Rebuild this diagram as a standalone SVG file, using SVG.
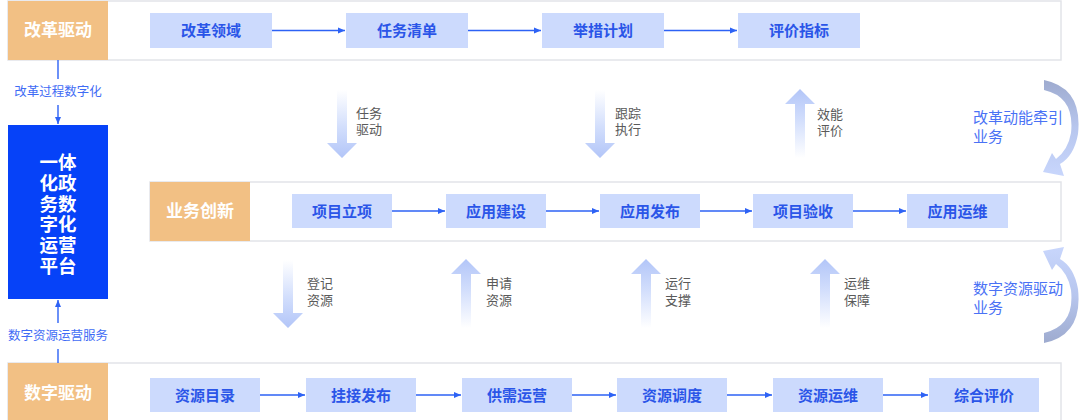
<svg xmlns="http://www.w3.org/2000/svg" width="1080" height="420" viewBox="0 0 1080 420">
<defs>
<style>
text{font-family:"Liberation Sans","Noto Sans CJK SC",sans-serif}
.band{fill:#fff;stroke:#e2e4e9;stroke-width:1.5}
.org{fill:#f2c084}
.otxt{fill:#fff;font-size:17px;font-weight:bold;text-anchor:middle;dominant-baseline:central}
.node{fill:#ccdafd}
.ntxt{fill:#2a55e8;font-size:15px;font-weight:bold;text-anchor:middle;dominant-baseline:central}
.conn{stroke:#2d62f5;stroke-width:1.4;fill:none;marker-end:url(#ah)}
.gtxt{fill:#5a5a5a;font-size:13px}
.btxt{fill:#3f6cf5;font-size:12.5px;text-anchor:middle;dominant-baseline:central}
.rtxt{fill:#4a72f5;font-size:15px}
.ptxt{fill:#fff;font-size:18.5px;font-weight:bold;text-anchor:middle;dominant-baseline:central}
</style>
<marker id="ah" markerWidth="8" markerHeight="8" refX="7" refY="4" orient="auto" markerUnits="userSpaceOnUse">
<path d="M0,1 L7,4 L0,7 Z" fill="#2d62f5"/>
</marker>
<linearGradient id="gDown" x1="0" y1="0" x2="0" y2="1">
<stop offset="0" stop-color="#ffffff"/>
<stop offset="0.55" stop-color="#d2defc"/>
<stop offset="1" stop-color="#b2c5f8"/>
</linearGradient>
<linearGradient id="gUp" x1="0" y1="1" x2="0" y2="0">
<stop offset="0" stop-color="#ffffff"/>
<stop offset="0.55" stop-color="#d2defc"/>
<stop offset="1" stop-color="#b2c5f8"/>
</linearGradient>
<linearGradient id="gArc" x1="0" y1="0" x2="0" y2="1">
<stop offset="0" stop-color="#9eabcf"/>
<stop offset="0.5" stop-color="#b7c6ee"/>
<stop offset="1" stop-color="#c8d6fc"/>
</linearGradient>
<path id="fatDown" d="M-5,0 H5 V53 H15 L0,68 L-15,53 H-5 Z"/>
<path id="fatUp" d="M0,0 L15,15 H5 V69 H-5 V15 H-15 Z"/>
<path id="arc" d="M1044,80 Q1083,88 1078,134 Q1074,156 1060,164 L1064,176 L1043,172 L1052,153 L1056,159 Q1068,150 1071,133 Q1075,97 1044,90 Z"/>
</defs>

<!-- bands -->
<g id="band-top">
<rect class="band" x="8" y="1" width="1053" height="59"/>
<rect class="org" x="8" y="1" width="100" height="59"/>
<text class="otxt" x="58" y="30.5">改革驱动</text>
</g>
<g id="band-mid">
<rect class="band" x="150" y="182" width="911" height="59"/>
<rect class="org" x="150" y="182" width="100" height="59"/>
<text class="otxt" x="200" y="211.5">业务创新</text>
</g>
<g id="band-bot">
<rect class="band" x="8" y="363" width="1053" height="62"/>
<rect class="org" x="8" y="363" width="100" height="62"/>
<text class="otxt" x="58" y="393">数字驱动</text>
</g>

<!-- platform -->
<g id="platform">
<rect x="8" y="125" width="100" height="174" fill="#0642f8"/>
<text class="ptxt" x="58" y="162">一体</text>
<text class="ptxt" x="58" y="183">化政</text>
<text class="ptxt" x="58" y="204">务数</text>
<text class="ptxt" x="58" y="224.5">字化</text>
<text class="ptxt" x="58" y="245">运营</text>
<text class="ptxt" x="58" y="266">平台</text>
</g>

<!-- top nodes -->
<g id="n-gglY"><rect class="node" x="150" y="13" width="122" height="35"/><text class="ntxt" x="211" y="30.5">改革领域</text></g>
<g id="n-rwqd"><rect class="node" x="346" y="13" width="122" height="35"/><text class="ntxt" x="407" y="30.5">任务清单</text></g>
<g id="n-jcjh"><rect class="node" x="542" y="13" width="122" height="35"/><text class="ntxt" x="603" y="30.5">举措计划</text></g>
<g id="n-pjzb"><rect class="node" x="738" y="13" width="122" height="35"/><text class="ntxt" x="799" y="30.5">评价指标</text></g>

<!-- middle nodes -->
<g id="n-xmlx"><rect class="node" x="292" y="194" width="100" height="34"/><text class="ntxt" x="342" y="211">项目立项</text></g>
<g id="n-yyjs"><rect class="node" x="446" y="194" width="100" height="34"/><text class="ntxt" x="496" y="211">应用建设</text></g>
<g id="n-yyfb"><rect class="node" x="600" y="194" width="100" height="34"/><text class="ntxt" x="650" y="211">应用发布</text></g>
<g id="n-xmys"><rect class="node" x="753" y="194" width="100" height="34"/><text class="ntxt" x="803" y="211">项目验收</text></g>
<g id="n-yyyw"><rect class="node" x="907" y="194" width="101" height="34"/><text class="ntxt" x="957.5" y="211">应用运维</text></g>

<!-- bottom nodes -->
<g id="n-zyml"><rect class="node" x="150" y="378" width="110" height="34"/><text class="ntxt" x="205" y="395">资源目录</text></g>
<g id="n-gjfb"><rect class="node" x="306" y="378" width="110" height="34"/><text class="ntxt" x="361" y="395">挂接发布</text></g>
<g id="n-gxyy"><rect class="node" x="462" y="378" width="110" height="34"/><text class="ntxt" x="517" y="395">供需运营</text></g>
<g id="n-zydd"><rect class="node" x="617" y="378" width="110" height="34"/><text class="ntxt" x="672" y="395">资源调度</text></g>
<g id="n-zyyw"><rect class="node" x="773" y="378" width="110" height="34"/><text class="ntxt" x="828" y="395">资源运维</text></g>
<g id="n-zhpj"><rect class="node" x="929" y="378" width="110" height="34"/><text class="ntxt" x="984" y="395">综合评价</text></g>

<!-- connectors -->
<g id="connectors">
<line class="conn" x1="272" y1="30.5" x2="345" y2="30.5"/>
<line class="conn" x1="468" y1="30.5" x2="541" y2="30.5"/>
<line class="conn" x1="664" y1="30.5" x2="737" y2="30.5"/>

<line class="conn" x1="392" y1="211" x2="445" y2="211"/>
<line class="conn" x1="546" y1="211" x2="599" y2="211"/>
<line class="conn" x1="700" y1="211" x2="752" y2="211"/>
<line class="conn" x1="853" y1="211" x2="906" y2="211"/>

<line class="conn" x1="260" y1="395" x2="305" y2="395"/>
<line class="conn" x1="416" y1="395" x2="461" y2="395"/>
<line class="conn" x1="572" y1="395" x2="616" y2="395"/>
<line class="conn" x1="727" y1="395" x2="772" y2="395"/>
<line class="conn" x1="883" y1="395" x2="928" y2="395"/>

<line x1="58" y1="60" x2="58" y2="79" stroke="#2d62f5" stroke-width="1.4"/>
<line class="conn" x1="58" y1="105" x2="58" y2="124"/>
<line x1="58" y1="349" x2="58" y2="363" stroke="#2d62f5" stroke-width="1.4"/>
<line class="conn" x1="58" y1="323" x2="58" y2="300"/>

<use href="#fatDown" x="342" y="90" fill="url(#gDown)"/>
<use href="#fatDown" x="600" y="90" fill="url(#gDown)"/>
<use href="#fatUp" x="800" y="89" fill="url(#gUp)"/>
<use href="#fatDown" x="288" y="260" fill="url(#gDown)"/>
<use href="#fatUp" x="466" y="259" fill="url(#gUp)"/>
<use href="#fatUp" x="646" y="259" fill="url(#gUp)"/>
<use href="#fatUp" x="825" y="259" fill="url(#gUp)"/>

<use href="#arc" fill="url(#gArc)"/>
<use href="#arc" fill="url(#gArc)" transform="translate(0,423) scale(1,-1)"/>
</g>

<!-- labels -->
<g id="labels">
<text class="btxt" x="58" y="92">改革过程数字化</text>
<text class="btxt" x="58" y="336">数字资源运营服务</text>

<text class="gtxt" x="356" y="118">任务</text>
<text class="gtxt" x="356" y="134">驱动</text>
<text class="gtxt" x="615" y="118">跟踪</text>
<text class="gtxt" x="615" y="134">执行</text>
<text class="gtxt" x="817" y="119">效能</text>
<text class="gtxt" x="817" y="135">评价</text>

<text class="gtxt" x="307" y="288">登记</text>
<text class="gtxt" x="307" y="305">资源</text>
<text class="gtxt" x="486" y="288">申请</text>
<text class="gtxt" x="486" y="305">资源</text>
<text class="gtxt" x="665" y="288">运行</text>
<text class="gtxt" x="665" y="305">支撑</text>
<text class="gtxt" x="844" y="288">运维</text>
<text class="gtxt" x="844" y="305">保障</text>

<text class="rtxt" x="973" y="123">改革动能牵引</text>
<text class="rtxt" x="973" y="142">业务</text>
<text class="rtxt" x="973" y="294">数字资源驱动</text>
<text class="rtxt" x="973" y="313">业务</text>
</g>
</svg>
